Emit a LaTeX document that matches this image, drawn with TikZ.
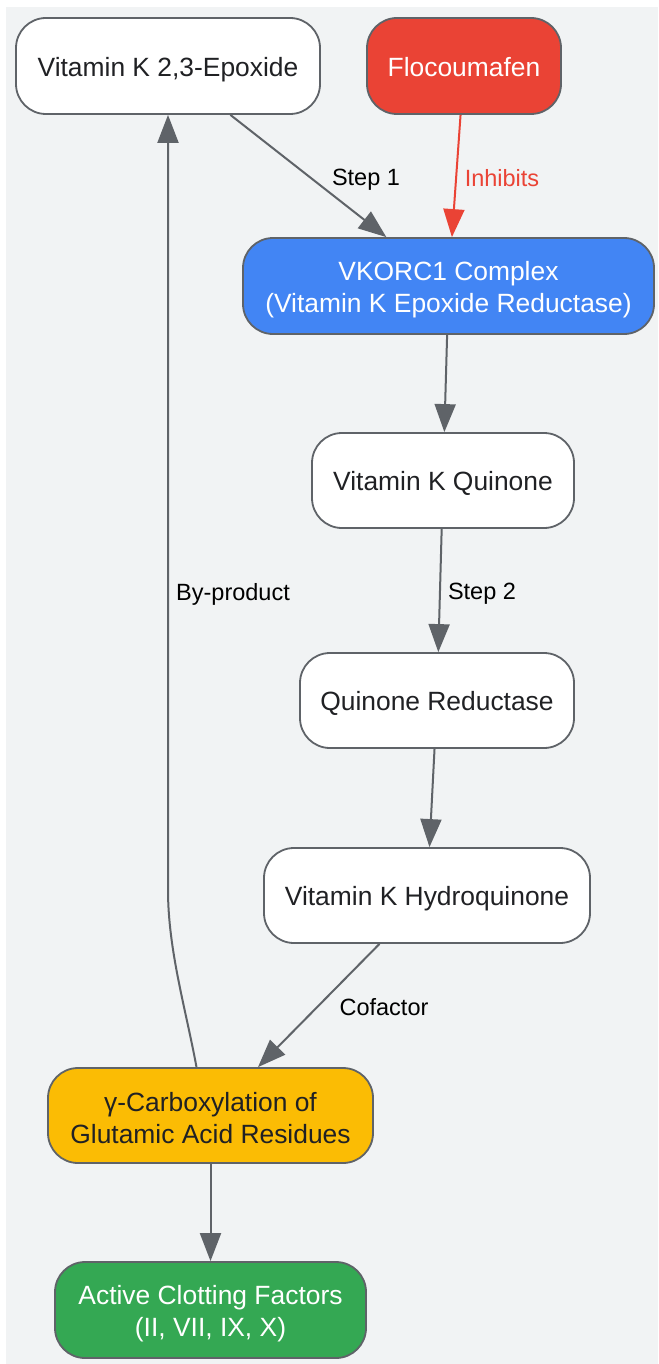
\documentclass[tikz,border=0pt]{standalone}
\usepackage{fontspec}
\setmainfont{Liberation Sans}
\usetikzlibrary{arrows.meta}
\definecolor{bgc}{HTML}{F1F3F4}
\definecolor{strokec}{HTML}{5F6368}
\definecolor{txtc}{HTML}{202124}
\definecolor{redc}{HTML}{EA4335}
\definecolor{bluec}{HTML}{4285F4}
\definecolor{yelc}{HTML}{FBBC04}
\definecolor{grnc}{HTML}{34A853}
\tikzset{
  box/.style={draw=strokec, line width=1.8pt, rounded corners=30pt, fill=white,
    inner sep=0pt},
  txt/.style={text=txtc, align=center, inner sep=0pt,
    font=\fontsize{26.4}{32}\selectfont},
  oneline/.style={execute at begin node={\vphantom{Kp}}},
  arr/.style={draw=strokec, line width=2pt, -{Triangle[length=28pt,width=21pt]}},
  lbl/.style={text=black, font=\fontsize{23.5}{28}\selectfont, inner sep=0pt,
    execute at begin node={\vphantom{Sp}}}
}
\begin{document}
\begin{tikzpicture}[x=1pt,y=-1pt]
\useasboundingbox (0,0) rectangle (658,1364);
\fill[bgc] (6,7) rectangle (658,1364);
\node[box, minimum width=304pt, minimum height=96pt] (epox) at (168,66) {};
\node[box, fill=redc, minimum width=194pt, minimum height=96pt] (floc) at (464,66) {};
\node[box, fill=bluec, minimum width=411pt, minimum height=96pt] (vkorc) at (448.5,286) {};
\node[box, minimum width=262pt, minimum height=95pt] (quin) at (443,480.5) {};
\node[box, minimum width=274pt, minimum height=95pt] (qred) at (437,700.5) {};
\node[box, minimum width=326pt, minimum height=95pt] (hydro) at (427,895.5) {};
\node[box, fill=yelc, minimum width=325pt, minimum height=95pt] (carb) at (210.5,1115.5) {};
\node[box, fill=grnc, minimum width=311pt, minimum height=96pt] (clot) at (210.5,1310) {};

\node[txt, oneline] (tepox) at ([yshift=-3.3pt]epox.center) {Vitamin K 2,3-Epoxide};
\node[txt, oneline, text=white] (tfloc) at ([yshift=-3.3pt]floc.center) {Flocoumafen};
\node[txt, text=white] (tvkorc) at ([yshift=-3.5pt]vkorc.center) {VKORC1 Complex\\(Vitamin K Epoxide Reductase)};
\node[txt, oneline] (tquin) at ([yshift=-3.5pt]quin.center) {Vitamin K Quinone};
\node[txt, oneline] (tqred) at ([yshift=-3.5pt]qred.center) {Quinone Reductase};
\node[txt, oneline] (thydro) at ([yshift=-3.3pt]hydro.center) {Vitamin K Hydroquinone};
\node[txt] (tcarb) at ([yshift=-2.5pt]carb.center) {γ-Carboxylation of\\Glutamic Acid Residues};
\node[txt, text=white] (tclot) at ([yshift=-3.5pt]clot.center) {Active Clotting Factors\\(II, VII, IX, X)};

\draw[arr] (epox) -- (vkorc);
\draw[arr, draw=redc] (floc) -- (vkorc);
\draw[arr] (vkorc) -- (quin);
\draw[arr] (quin) -- (qred);
\draw[arr] (qred) -- (hydro);
\draw[arr] (hydro) -- (carb);
\draw[arr] (carb) -- (clot);
\coordinate (bend) at (168,890);
\draw[arr] ([xshift=-14pt]carb.north) .. controls (186,1010) and (168,950) .. (bend) -- (epox.south);

\node[lbl] (l1) at (366,180) {Step 1};
\node[lbl, text=redc] (l2) at (502,180) {Inhibits};
\node[lbl] (l3) at (482,594) {Step 2};
\node[lbl] (l4) at (233,594) {By-product};
\node[lbl] (l5) at (384,1009) {Cofactor};
\end{tikzpicture}
\end{document}
